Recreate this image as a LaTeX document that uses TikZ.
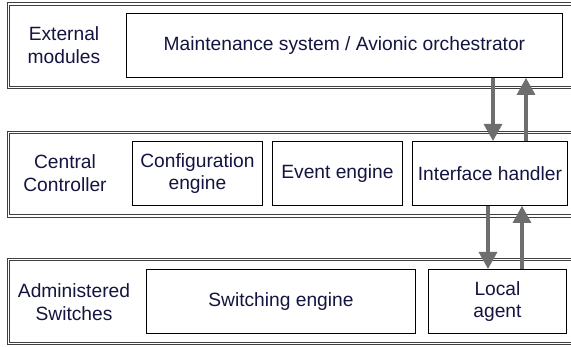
\documentclass[tikz,border=0pt]{standalone}
\usepackage{fontspec}
\setmainfont{Liberation Sans}
\usetikzlibrary{arrows.meta}
\definecolor{txt}{RGB}{20,20,65}
\definecolor{arr}{RGB}{110,110,110}
\tikzset{
  frame/.style={draw=black!75, double=white, line width=1pt, double distance=1.5pt, anchor=north west, inner sep=0pt},
  box/.style={draw=black, line width=0.9pt, fill=white, anchor=north west, inner sep=0pt, align=center, text=txt,
    font=\fontsize{19.2}{22.5}\selectfont},
  lab/.style={align=center, text=txt, font=\fontsize{19.2}{22.5}\selectfont, inner sep=0pt},
  flow/.style={draw=arr, line width=3.2pt, -{Triangle[length=17pt,width=18pt]}}
}
\begin{document}
\begin{tikzpicture}[x=1pt,y=-1pt]
\clip (0,0) rectangle (571,347);
\fill[white] (0,0) rectangle (571,347);
% layer frames
\node[frame, minimum width=590pt, minimum height=83.5pt] (f1) at (8,3.5) {};
\node[frame, minimum width=590pt, minimum height=83.5pt] (f2) at (8,132) {};
\node[frame, minimum width=590pt, minimum height=84pt] (f3) at (8,259) {};
% labels
\node[lab] (l1) at (64,45) {External\\modules};
\node[lab] (l2) at (65,173) {Central\\Controller};
\node[lab] (l3) at (74,302) {Administered\\Switches};
% boxes
\node[box, minimum width=436pt, minimum height=64pt] (maint) at (126,13) {Maintenance system / Avionic orchestrator};
\node[box, minimum width=130pt, minimum height=64pt] (conf) at (132,141) {Configuration\\engine};
\node[box, minimum width=130pt, minimum height=64pt] (event) at (272,141) {Event engine};
\node[box, minimum width=155pt, minimum height=64pt] (iface) at (412,141) {Interface handler};
\node[box, minimum width=269pt, minimum height=64pt] (sw) at (146,269) {Switching engine};
\node[box, minimum width=138pt, minimum height=64pt] (local) at (428,269) {Local\\agent};
% arrows
\draw[flow] (maint.south -| 493,0) -- (iface.north -| 493,0);
\draw[flow] (iface.north -| 526,0) -- (maint.south -| 526,0);
\draw[flow] (iface.south -| 488,0) -- (local.north -| 488,0);
\draw[flow] (local.north -| 522,0) -- (iface.south -| 522,0);
\end{tikzpicture}
\end{document}
